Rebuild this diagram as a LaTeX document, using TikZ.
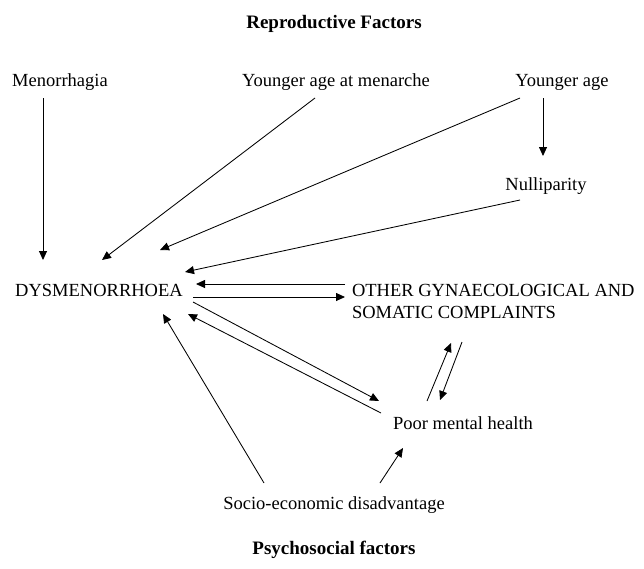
\documentclass[tikz,border=0pt]{standalone}
\usepackage{fontspec}
\setmainfont{Liberation Serif}
\usetikzlibrary{calc,arrows.meta}
\begin{document}
\begin{tikzpicture}[x=1pt,y=-1pt,
  lbl/.style={inner sep=0pt,outer sep=0pt,anchor=base,font=\fontsize{18.5}{22}\selectfont},
  ttl/.style={inner sep=0pt,outer sep=0pt,anchor=base,font=\fontsize{19}{22}\selectfont\bfseries},
  arr/.style={line width=0.85pt,-{Triangle[length=9pt,width=8pt]}}]
\useasboundingbox (0,0) rectangle (644,568);
\node[ttl] (rep) at (334,28) {Reproductive Factors};
\node[lbl] (men) at (60,86) {Menorrhagia};
\node[lbl] (mena) at (336,86) {Younger age at menarche};
\node[lbl] (yng) at (562,86) {Younger age};
\node[lbl] (nul) at (546,190) {Nulliparity};
\node[lbl] (dys) at (99,296) {DYSMENORRHOEA};
\node[lbl,anchor=base west] (oth) at (352,296) {\begin{tabular}[t]{@{}l@{}}OTHER GYNAECOLOGICAL AND\\SOMATIC COMPLAINTS\end{tabular}};
\node[lbl] (pmh) at (463,429) {Poor mental health};
\node[lbl] (soc) at (334,509) {Socio-economic disadvantage};
\node[ttl] (psy) at (334,554) {Psychosocial factors};
% arrows
\draw[arr] ($(men.base)+(-17,12)$) -- ($(dys.base)+(-56,-36)$);
\draw[arr] ($(mena.base)+(-21,12)$) -- ($(dys.base)+(3,-36)$);
\draw[arr] ($(yng.base)+(-42,12)$) -- ($(dys.base)+(61,-46)$);
\draw[arr] ($(yng.base)+(-19,12)$) -- ($(nul.base)+(-3,-34)$);
\draw[arr] ($(nul.base)+(-26,10)$) -- ($(dys.base)+(86,-24)$);
\draw[arr] ($(oth.base west)+(-7,-12)$) -- ($(dys.base)+(97,-12)$);
\draw[arr] ($(dys.base)+(94,1)$) -- ($(oth.base west)+(-7,1)$);
\draw[arr] ($(dys.base)+(94,6)$) -- ($(pmh.base)+(-84,-28)$);
\draw[arr] ($(pmh.base)+(-82,-16)$) -- ($(dys.base)+(89,18)$);
\draw[arr] ($(soc.base)+(-70,-26)$) -- ($(dys.base)+(64,18)$);
\draw[arr] ($(soc.base)+(46,-26)$) -- ($(pmh.base)+(-60,19)$);
\draw[arr] ($(pmh.base)+(-36,-28)$) -- ($(oth.base west)+(99,47)$);
\draw[arr] ($(oth.base west)+(110,46)$) -- ($(pmh.base)+(-23,-29)$);
\end{tikzpicture}
\end{document}
